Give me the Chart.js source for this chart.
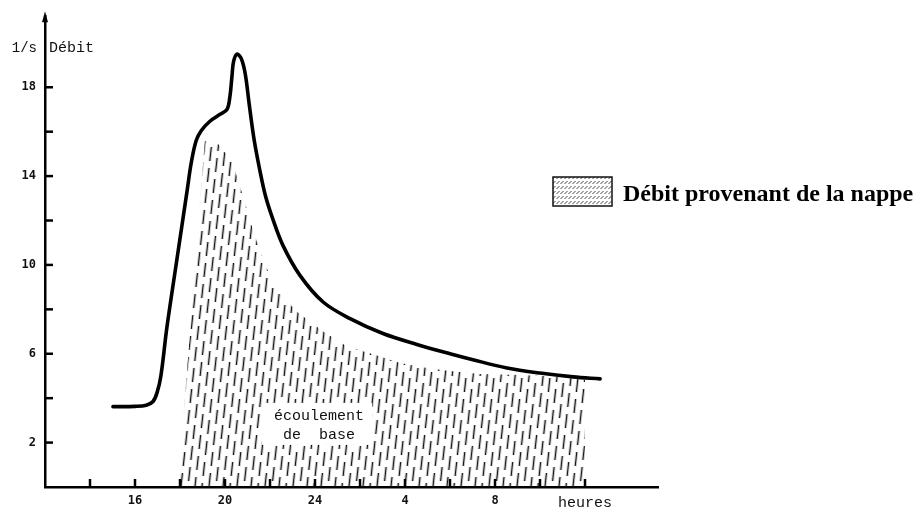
<!DOCTYPE html>
<html lang="fr">
<head>
<meta charset="utf-8">
<title>Hydrogramme de crue</title>
<script src="https://cdn.jsdelivr.net/npm/chart.js@4.4.1/dist/chart.umd.min.js"></script>
<style>
  html, body { margin: 0; padding: 0; background: #fff; }
  #wrap { position: relative; width: 916px; height: 509px; }
  canvas { background: #fff; }
</style>
</head>
<body>
<div id="wrap"><canvas id="hydro"></canvas></div>
<script>
// Total discharge (l/s) over time (hours, continuing past 24 into the next day)
const flowHours  = [15.02, 16.0, 16.5, 16.8, 16.98, 17.15, 17.42, 17.87, 18.31, 18.5, 18.72, 18.95, 19.33, 19.78, 20.09, 20.22, 20.31, 20.38, 20.53, 20.72, 20.9, 21.08, 21.3, 21.56, 21.8, 22.13, 22.58, 23.33, 24.36, 25.56, 27.02, 28.53, 30.0, 31.02, 32.53, 34.0, 35.47, 36.67];
const flowValues = [3.62, 3.63, 3.68, 3.85, 4.25, 5.0, 7.2, 10.3, 13.3, 14.6, 15.6, 16.05, 16.47, 16.78, 17.0, 17.6, 18.5, 19.15, 19.49, 19.3, 18.6, 17.2, 15.6, 14.2, 13.1, 12.05, 10.87, 9.53, 8.33, 7.58, 6.91, 6.42, 6.0, 5.73, 5.36, 5.13, 4.96, 4.87];

// Base flow coming from the aquifer (hatched area outline)
const baseHours  = [17.91, 19.11, 19.69, 20.31, 20.8, 21.24, 21.69, 22.13, 22.67, 23.2, 23.78, 24.36, 25.42, 26.58, 27.78, 28.98, 30.0, 31.33, 33.11, 34.89, 36.0, 36.0];
const baseValues = [0, 15.67, 15.44, 14.69, 13.09, 11.58, 10.24, 9.22, 8.47, 7.89, 7.44, 7.0, 6.33, 5.98, 5.58, 5.36, 5.22, 5.09, 5.04, 4.96, 4.82, 0];

// Axis ticks and labels
const yTickMarks  = [2, 4, 6, 8, 10, 12, 14, 16, 18];
const yTickLabels = [2, 6, 10, 14, 18];
const xTickMarks  = [14, 16, 18, 20, 22, 24, 26, 28, 30, 32, 34, 36];
const xTickValues = [16, 20, 24, 28, 32, 36];
const xTickLabels = ['16', '20', '24', '4', '8', 'heures'];

const yTitleUnit = '1/s';
const yTitle = 'Débit';
const areaNote = ['écoulement', 'de  base'];
const legendLabel = 'Débit provenant de la nappe';

// Dashed, slightly slanted hatching for the base-flow area
function makeHatch() {
  const w = 28, h = 21;
  const c = document.createElement('canvas');
  c.width = w; c.height = h;
  const g = c.getContext('2d');
  g.strokeStyle = '#111';
  g.lineWidth = 1.5;
  const offsets = [0, 11, 5, 15];
  const dash = 14;
  offsets.forEach((off, i) => {
    const x = i * 7 + 3.5;
    for (let k = -1; k <= 1; k++) {
      const y0 = off + k * h;
      g.beginPath();
      g.moveTo(x, y0);
      g.lineTo(x, y0 + dash);
      g.stroke();
    }
  });
  const ctx = document.createElement('canvas').getContext('2d');
  const p = ctx.createPattern(c, 'repeat');
  p.setTransform(new DOMMatrix([1, 0, -0.11, 1, 0, 0]));
  return p;
}

// Fine diagonal texture for the legend swatch
function makeSwatch() {
  const c = document.createElement('canvas');
  c.width = 4; c.height = 5;
  const g = c.getContext('2d');
  g.fillStyle = '#fff';
  g.fillRect(0, 0, 4, 5);
  g.strokeStyle = '#444';
  g.lineWidth = 1;
  g.beginPath();
  g.moveTo(0.5, 4);
  g.lineTo(3.5, 1);
  g.stroke();
  return document.createElement('canvas').getContext('2d').createPattern(c, 'repeat');
}

const hatch = makeHatch();
const swatch = makeSwatch();

const flowData = flowHours.map((h, i) => ({ x: h, y: flowValues[i] }));
const baseData = baseHours.map((h, i) => ({ x: h, y: baseValues[i] }));

const MONO = '"Liberation Mono", "Courier New", monospace';
const NUM = '"DejaVu Sans Mono", monospace';

const decorations = {
  id: 'decorations',
  afterDatasetsDraw(chart) {
    const { ctx, scales: { x, y } } = chart;
    // note inside the hatched area
    const cx = x.getPixelForValue(24.09);
    const cy = y.getPixelForValue(2.84);
    ctx.save();
    ctx.fillStyle = '#fff';
    ctx.fillRect(cx - 55, cy - 21, 110, 42);
    ctx.fillStyle = '#111';
    ctx.font = '15px ' + MONO;
    ctx.textAlign = 'center';
    ctx.textBaseline = 'middle';
    ctx.fillText(areaNote[0], cx + 2, cy - 8);
    ctx.fillText(areaNote[1], cx + 2, cy + 11);
    ctx.restore();
  },
  afterDraw(chart) {
    const { ctx, chartArea: a, scales: { x, y } } = chart;
    ctx.save();
    ctx.strokeStyle = '#000';
    ctx.lineWidth = 2.5;
    ctx.lineCap = 'butt';
    // inward tick marks
    yTickMarks.forEach(v => {
      const py = y.getPixelForValue(v);
      ctx.beginPath(); ctx.moveTo(a.left, py); ctx.lineTo(a.left + 8, py); ctx.stroke();
    });
    xTickMarks.forEach(v => {
      const px = x.getPixelForValue(v);
      ctx.beginPath(); ctx.moveTo(px, a.bottom); ctx.lineTo(px, a.bottom - 8); ctx.stroke();
    });
    // arrow head on the vertical axis
    ctx.fillStyle = '#000';
    ctx.beginPath();
    ctx.moveTo(a.left, a.top - 5);
    ctx.lineTo(a.left - 3, a.top + 6);
    ctx.lineTo(a.left + 3, a.top + 6);
    ctx.closePath();
    ctx.fill();
    // axis title
    ctx.fillStyle = '#111';
    ctx.textBaseline = 'middle';
    ctx.font = '14px ' + MONO;
    ctx.textAlign = 'right';
    ctx.fillText(yTitleUnit, a.left - 8, 48);
    ctx.font = '15px ' + MONO;
    ctx.textAlign = 'left';
    ctx.fillText(yTitle, a.left + 4, 48);
    // legend
    const bx = 553, by = 177, bw = 59, bh = 29;
    ctx.fillStyle = swatch;
    ctx.fillRect(bx, by, bw, bh);
    ctx.lineWidth = 1.5;
    ctx.strokeStyle = '#111';
    ctx.strokeRect(bx, by, bw, bh);
    ctx.fillStyle = '#000';
    ctx.font = 'bold 24px "Liberation Serif", "Times New Roman", serif';
    ctx.textAlign = 'left';
    ctx.textBaseline = 'alphabetic';
    ctx.fillText(legendLabel, 623, 201);
    ctx.restore();
  }
};

new Chart(document.getElementById('hydro'), {
  type: 'line',
  data: {
    datasets: [
      {
        label: legendLabel,
        data: baseData,
        borderWidth: 0,
        borderColor: 'rgba(0,0,0,0)',
        backgroundColor: hatch,
        fill: 'origin',
        pointRadius: 0,
        tension: 0
      },
      {
        label: yTitle,
        data: flowData,
        borderColor: '#000',
        borderWidth: 3.6,
        fill: false,
        pointRadius: 0,
        tension: 0.35,
        borderCapStyle: 'round',
        borderJoinStyle: 'round'
      }
    ]
  },
  options: {
    responsive: true,
    maintainAspectRatio: false,
    animation: false,
    layout: { padding: { top: 10, right: 258, bottom: 0, left: 0 } },
    plugins: { legend: { display: false }, tooltip: { enabled: false } },
    scales: {
      x: {
        type: 'linear',
        min: 12,
        max: 39.244,
        afterFit: s => { s.height = 22; },
        afterBuildTicks: s => { s.ticks = xTickValues.map(v => ({ value: v })); },
        grid: { display: false, drawTicks: false },
        border: { display: true, color: '#000', width: 2.5 },
        ticks: {
          padding: 7,
          autoSkip: false,
          maxRotation: 0,
          color: '#111',
          callback: v => {
            const i = xTickValues.indexOf(v);
            return i >= 0 ? xTickLabels[i] : '';
          },
          font: c => (c.tick && c.tick.value === 36)
            ? { family: MONO, size: 15, weight: 'normal' }
            : { family: NUM, size: 12, weight: 'bold' }
        }
      },
      y: {
        type: 'linear',
        min: 0,
        max: 21.2,
        afterFit: s => { s.width = 45; },
        afterBuildTicks: s => { s.ticks = yTickLabels.map(v => ({ value: v })); },
        grid: { display: false, drawTicks: false },
        border: { display: true, color: '#000', width: 2.5 },
        ticks: {
          padding: 9,
          color: '#111',
          font: { family: NUM, size: 12, weight: 'bold' },
          callback: v => String(v)
        }
      }
    }
  },
  plugins: [decorations]
});
</script>
</body>
</html>
